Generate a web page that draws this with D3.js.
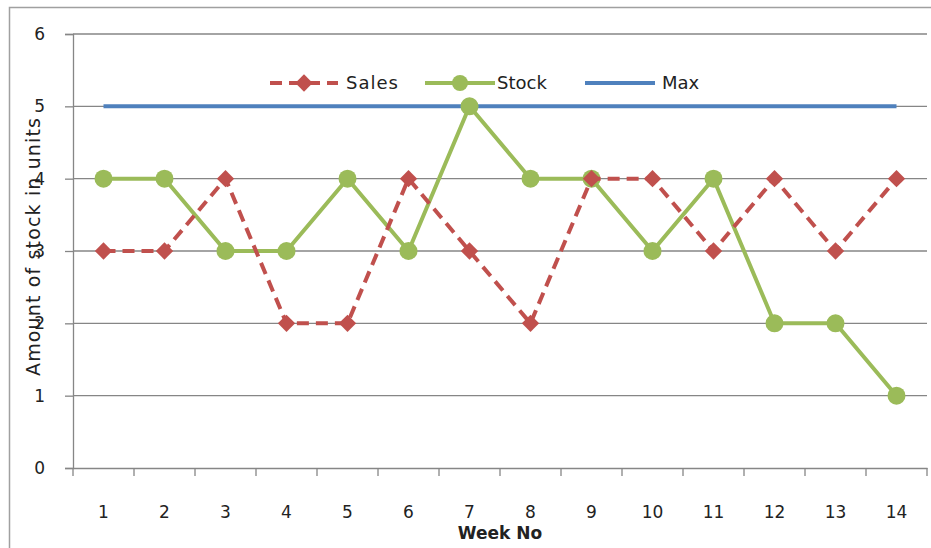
<!DOCTYPE html>
<html><head><meta charset="utf-8">
<script src="https://cdn.jsdelivr.net/npm/d3@7"></script>
<style>body{margin:0;background:#fff}svg{display:block;font-family:"DejaVu Sans",Verdana,sans-serif}</style>
</head><body>
<svg id="chart" width="931" height="548"></svg>
<script>
const weeks = ["1","2","3","4","5","6","7","8","9","10","11","12","13","14"];
const sales = [3,3,4,2,2,4,3,2,4,4,3,4,3,4];
const stock = [4,4,3,3,4,3,5,4,4,3,4,2,2,1];
const maxv  = [5,5,5,5,5,5,5,5,5,5,5,5,5,5];
const yTicks = [0,1,2,3,4,5,6];

const svg = d3.select("#chart");
svg.append("rect").attr("x",9.5).attr("y",7.5).attr("width",940).attr("height",560)
  .attr("fill","#fff").attr("stroke","#a0a0a0").attr("stroke-width",1.5);

const x = d3.scaleBand().domain(weeks).range([73,927]);
const y = d3.scaleLinear().domain([0,6]).range([468,34]);
const cx = d => x(d) + x.bandwidth()/2;

// gridlines
svg.append("g").selectAll("line").data(yTicks.filter(t=>t>0)).join("line")
  .attr("x1",73).attr("x2",927).attr("y1",d=>y(d)).attr("y2",d=>y(d))
  .attr("stroke","#868686").attr("stroke-width",1.3);

// y axis
const ya = svg.append("g").attr("transform","translate(73,0)")
  .call(d3.axisLeft(y).tickValues(yTicks).tickSize(8).tickPadding(20).tickFormat(d3.format("d")));
ya.select(".domain").attr("stroke","#868686").attr("stroke-width",1.3);
ya.selectAll(".tick line").attr("stroke","#868686").attr("stroke-width",1.3);
ya.selectAll("text").attr("font-size",17).attr("fill","#222").attr("font-family","DejaVu Sans");

// x axis
const xa = svg.append("g").attr("transform","translate(0,468)")
  .call(d3.axisBottom(x).tickSize(0).tickPadding(38));
xa.select(".domain").attr("stroke","#868686").attr("stroke-width",1.3);
xa.selectAll("text").attr("font-size",17).attr("fill","#222").attr("font-family","DejaVu Sans");
svg.append("g").selectAll("line").data(weeks.concat(["end"])).join("line")
  .attr("x1",(d,i)=>73+i*x.step()).attr("x2",(d,i)=>73+i*x.step())
  .attr("y1",468).attr("y2",476).attr("stroke","#868686").attr("stroke-width",1.3);

// axis titles
svg.append("text").attr("x",500).attr("y",539).attr("text-anchor","middle")
  .attr("font-size",17).attr("font-weight","bold").attr("fill","#222").text("Week No");
svg.append("text").attr("transform","translate(40,247) rotate(-90)").attr("text-anchor","middle")
  .attr("font-size",19).attr("fill","#222")
  .attr("textLength",258).attr("lengthAdjust","spacing").text("Amount of stock  in units");

const line = d3.line().x((d,i)=>cx(weeks[i])).y(d=>y(d));

// Max
svg.append("path").datum(maxv).attr("d",line).attr("fill","none")
  .attr("stroke","#4F81BD").attr("stroke-width",4);
// Stock
svg.append("path").datum(stock).attr("d",line).attr("fill","none")
  .attr("stroke","#9BBB59").attr("stroke-width",4).attr("stroke-linejoin","round");
svg.append("g").selectAll("circle").data(stock).join("circle")
  .attr("cx",(d,i)=>cx(weeks[i])).attr("cy",d=>y(d)).attr("r",9).attr("fill","#9BBB59");
// Sales
svg.append("path").datum(sales).attr("d",line).attr("fill","none")
  .attr("stroke","#C0504D").attr("stroke-width",4).attr("stroke-dasharray","12,7");
const diamond = d3.symbol().type(d3.symbolSquare).size(150);
svg.append("g").selectAll("path").data(sales).join("path")
  .attr("d",diamond).attr("transform",(d,i)=>`translate(${cx(weeks[i])},${y(d)}) rotate(45)`).attr("fill","#C0504D");

// legend
const lg = svg.append("g").attr("font-size",18).attr("fill","#222");
// Sales
lg.append("line").attr("x1",270).attr("x2",338).attr("y1",83).attr("y2",83)
  .attr("stroke","#C0504D").attr("stroke-width",4).attr("stroke-dasharray","12,7");
lg.append("path").attr("d",diamond).attr("transform","translate(304,83) rotate(45)").attr("fill","#C0504D");
lg.append("text").attr("x",346).attr("y",89).attr("letter-spacing",1).text("Sales");
// Stock
lg.append("line").attr("x1",425).attr("x2",495).attr("y1",83).attr("y2",83)
  .attr("stroke","#9BBB59").attr("stroke-width",4);
lg.append("circle").attr("cx",460).attr("cy",83).attr("r",8).attr("fill","#9BBB59");
lg.append("text").attr("x",497).attr("y",89).text("Stock");
// Max
lg.append("line").attr("x1",585).attr("x2",655).attr("y1",83).attr("y2",83)
  .attr("stroke","#4F81BD").attr("stroke-width",4);
lg.append("text").attr("x",662).attr("y",89).text("Max");
</script>
</body></html>
